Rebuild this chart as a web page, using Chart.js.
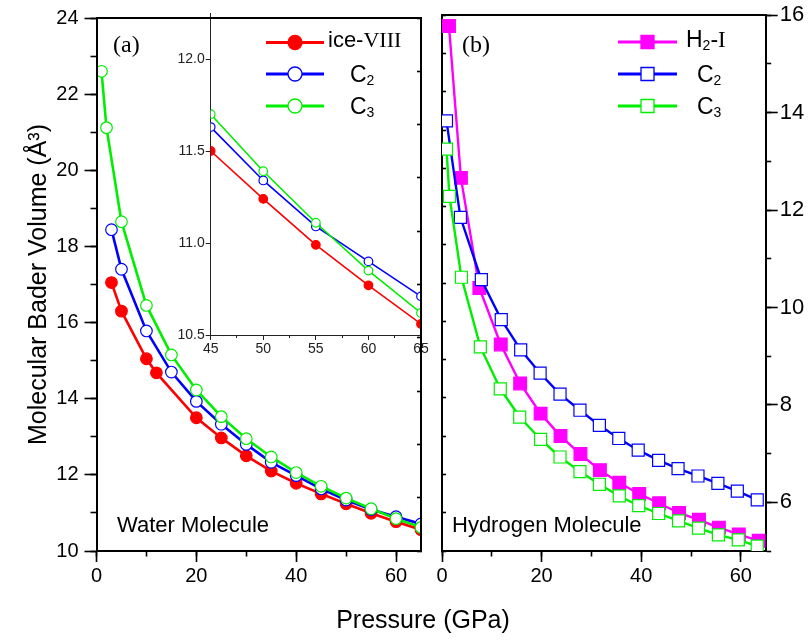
<!DOCTYPE html>
<html>
<head>
<meta charset="utf-8">
<script src="https://cdn.jsdelivr.net/npm/chart.js@4.4.1/dist/chart.umd.min.js"></script>
<style>
  html, body { margin: 0; padding: 0; background: #fff; }
  #wrap { position: relative; width: 811px; height: 640px; }
  #wrap canvas { position: absolute; left: 0; top: 0; }
</style>
</head>
<body>
<div id="wrap">
  <canvas id="waterData" width="811" height="640"></canvas>
  <canvas id="inset" width="811" height="640"></canvas>
  <canvas id="waterFrame" width="811" height="640"></canvas>
  <canvas id="hydrogen" width="811" height="640"></canvas>
</div>
<script>
// panel (a) water molecule, volume in A^3 vs pressure in GPa
const iceP = [3, 5, 10, 12, 20, 25, 30, 35, 40, 45, 50, 55, 60, 65];
const iceV = [17.05, 16.3, 15.05, 14.68, 13.5, 12.97, 12.5, 12.1, 11.78, 11.5, 11.24, 10.99, 10.77, 10.56];
const c2wP = [3, 5, 10, 15, 20, 25, 30, 35, 40, 45, 50, 55, 60, 65];
const c2wV = [18.44, 17.4, 15.78, 14.7, 13.93, 13.33, 12.8, 12.33, 11.98, 11.63, 11.34, 11.09, 10.9, 10.71];
const c3wP = [1, 2, 5, 10, 15, 20, 25, 30, 35, 40, 45, 50, 55, 60, 65];
const c3wV = [22.6, 21.12, 18.65, 16.45, 15.15, 14.23, 13.53, 12.95, 12.47, 12.06, 11.7, 11.39, 11.11, 10.85, 10.62];

// panel (b) hydrogen molecule
const h2P = [1.4, 3.8, 7.5, 11.8, 15.7, 19.8, 23.8, 27.8, 31.7, 35.6, 39.6, 43.6, 47.6, 51.6, 55.6, 59.6, 63.6];
const h2V = [15.78, 12.66, 10.4, 9.24, 8.44, 7.82, 7.36, 6.99, 6.66, 6.4, 6.17, 5.98, 5.78, 5.64, 5.48, 5.34, 5.21];
const c2hP = [0.9, 3.7, 7.9, 11.9, 15.8, 19.7, 23.7, 27.7, 31.6, 35.5, 39.4, 43.5, 47.4, 51.4, 55.4, 59.3, 63.3];
const c2hV = [13.83, 11.85, 10.57, 9.75, 9.13, 8.65, 8.22, 7.89, 7.58, 7.31, 7.07, 6.86, 6.69, 6.54, 6.39, 6.23, 6.05];
const c3hP = [0.9, 1.5, 3.9, 7.7, 11.7, 15.6, 19.8, 23.7, 27.7, 31.6, 35.6, 39.5, 43.5, 47.5, 51.5, 55.5, 59.5, 63.3];
const c3hV = [13.25, 12.28, 10.62, 9.19, 8.33, 7.75, 7.29, 6.93, 6.63, 6.37, 6.13, 5.93, 5.77, 5.62, 5.47, 5.33, 5.23, 5.1];

// tick values
const pressureTicks = [0, 20, 40, 60];
const pressureMinor = [0, 10, 20, 30, 40, 50, 60];
const waterTicks = [10, 12, 14, 16, 18, 20, 22, 24];
const waterMinor = [10, 11, 12, 13, 14, 15, 16, 17, 18, 19, 20, 21, 22, 23, 24];
const hydroTicks = [6, 8, 10, 12, 14, 16];
const hydroMinor = [5, 6, 7, 8, 9, 10, 11, 12, 13, 14, 15, 16];
const frameTicks = [0, 1, 2, 3, 4, 5, 6, 7, 8, 9, 10];
const insetPTicks = [45, 50, 55, 60, 65];
const insetPMinor = [45, 47.5, 50, 52.5, 55, 57.5, 60, 62.5, 65];
const insetVTicks = [10.5, 11.0, 11.5, 12.0];

const SANS = '"Liberation Sans", Arial, Helvetica, sans-serif';
const SERIF = '"Liberation Serif", "Times New Roman", serif';
const sans = s => s + 'px ' + SANS;
const serif = s => s + 'px ' + SERIF;

const RED = '#ff0000', BLUE = '#0000ff', GREEN = '#00ee00', MAGENTA = '#ff00ff';

function scale(o) {
  const ink = o.ghost ? 'rgba(0,0,0,0)' : (o.ink || '#000');
  return {
    type: 'linear', position: o.pos, min: o.range[0], max: o.range[1], weight: o.weight || 0,
    afterBuildTicks: s => { s.ticks = o.ticks.map(v => ({ value: v })); },
    afterFit: s => { if (s.isHorizontal()) s.height = o.size || 0; else s.width = o.size || 0; },
    border: { display: true, color: ink, width: o.line || 2 },
    grid: { drawOnChartArea: false, drawTicks: o.tick !== 0, tickLength: o.tick, tickWidth: o.tickWidth || 1.6, tickColor: ink, color: ink },
    ticks: {
      display: !!o.font, autoSkip: false, maxRotation: 0, padding: o.pad || 0, color: ink,
      font: { family: SANS, size: o.font || 12 }, callback: o.fmt || (v => String(v))
    },
    title: o.title ? { display: true, text: o.title, color: ink, font: { family: SANS, size: 25 }, padding: 0 } : { display: false }
  };
}

function waterScales(ghost) {
  return {
    x: scale({ ghost, pos: 'bottom', range: [0, 65], ticks: pressureTicks, tick: 11, font: 20, pad: 2, size: 40, weight: 1 }),
    xm: scale({ ghost, pos: 'bottom', range: [0, 65], ticks: pressureMinor, tick: 5.5 }),
    xt: scale({ ghost, pos: 'top', range: [0, 65], ticks: [0], tick: 0 }),
    y: scale({ ghost, pos: 'left', range: [10, 24], ticks: waterTicks, tick: 12, font: 20, pad: 6, size: 72, weight: 1,
      title: 'Molecular Bader Volume (Å³)' }),
    ym: scale({ ghost, pos: 'left', range: [10, 24], ticks: waterMinor, tick: 6 }),
    yr: scale({ ghost, pos: 'right', range: [0, 10], ticks: frameTicks, tick: -4 })
  };
}

function series(xs, ys, s, big) {
  return {
    data: xs.map((x, i) => ({ x, y: ys[i] })),
    xAxisID: 'x', yAxisID: 'y', showLine: true, tension: 0,
    borderColor: s.color, borderWidth: big ? s.lw : s.lwSmall,
    pointStyle: s.shape, pointRadius: big ? s.r : s.rSmall,
    pointBackgroundColor: s.fill, pointBorderColor: s.color, pointBorderWidth: s.bw,
    order: s.order
  };
}

const iceStyle = { color: RED, fill: RED, shape: 'circle', r: 5.8, rSmall: 4.3, lw: 2.6, lwSmall: 1.6, bw: 1.2, order: 3 };
const c2wStyle = { color: BLUE, fill: '#fff', shape: 'circle', r: 5.8, rSmall: 4.3, lw: 2.6, lwSmall: 1.6, bw: 1.2, order: 2 };
const c3wStyle = { color: GREEN, fill: '#fff', shape: 'circle', r: 5.8, rSmall: 4.3, lw: 2.6, lwSmall: 1.6, bw: 1.2, order: 1 };
const h2Style = { color: MAGENTA, fill: MAGENTA, shape: 'rect', r: 9, lw: 2.4, bw: 1.2, order: 3 };
const c2hStyle = { color: BLUE, fill: '#fff', shape: 'rect', r: 8.5, lw: 2.4, bw: 1.2, order: 2 };
const c3hStyle = { color: GREEN, fill: '#fff', shape: 'rect', r: 8.5, lw: 2.4, bw: 1.2, order: 1 };

function put(ctx, parts, x, y) {
  for (const [t, f, dy] of parts) {
    ctx.font = f;
    ctx.fillText(t, x, y + (dy || 0));
    x += ctx.measureText(t).width;
  }
}

function legend(ctx, rows, x0, x1, ys) {
  rows.forEach((row, i) => {
    const y = ys[i], s = row.style, mx = (x0 + x1) / 2;
    ctx.strokeStyle = s.color; ctx.lineWidth = 3;
    ctx.beginPath(); ctx.moveTo(x0, y); ctx.lineTo(x1, y); ctx.stroke();
    ctx.fillStyle = s.fill; ctx.lineWidth = 1.3;
    ctx.beginPath();
    if (s.shape === 'circle') ctx.arc(mx, y, 7, 0, Math.PI * 2);
    else ctx.rect(mx - 6.5, y - 6.5, 13, 13);
    ctx.fill(); ctx.stroke();
    ctx.fillStyle = '#000';
    put(ctx, row.label, row.tx, y + (i === 0 ? 4.5 : 7.5));
  });
}

function make(id, pad, scales, datasets, plugins) {
  return new Chart(document.getElementById(id), {
    type: 'scatter',
    data: { datasets },
    options: {
      responsive: false, animation: false, devicePixelRatio: 1, events: [],
      layout: { padding: pad },
      plugins: { legend: { display: false }, tooltip: { enabled: false } },
      scales
    },
    plugins: plugins || []
  });
}

const waterPad = { left: 24.5, top: 13, right: 390, bottom: 49 };

// main water curves (axes drawn invisibly; the frame chart on top draws them)
make('waterData', waterPad, waterScales(true), [
  series(iceP, iceV, iceStyle, true),
  series(c2wP, c2wV, c2wStyle, true),
  series(c3wP, c3wV, c3wStyle, true)
]);

// inset: zoom on 45-65 GPa
const whiteBox = {
  id: 'whiteBox',
  beforeDraw(chart) {
    const a = chart.chartArea, ctx = chart.ctx;
    ctx.save(); ctx.fillStyle = '#fff';
    ctx.fillRect(a.left, a.top, a.right - a.left, a.bottom - a.top);
    ctx.restore();
  }
};
make('inset', { left: 170.7, top: 13, right: 390, bottom: 280 }, {
  x: scale({ pos: 'bottom', range: [45, 65], ticks: insetPTicks, tick: 5, font: 14, pad: 1, size: 25, weight: 1, line: 1, tickWidth: 1, ink: '#222' }),
  xm: scale({ pos: 'bottom', range: [45, 65], ticks: insetPMinor, tick: 3, line: 1, tickWidth: 1, ink: '#222' }),
  y: scale({ pos: 'left', range: [10.5, 12.25], ticks: insetVTicks, tick: 5, font: 14, pad: 1, size: 40, weight: 1, line: 1, tickWidth: 1, ink: '#222',
    fmt: v => v.toFixed(1) })
}, [
  series(iceP.slice(9), iceV.slice(9), iceStyle, false),
  series(c2wP.slice(9), c2wV.slice(9), c2wStyle, false),
  series(c3wP.slice(9), c3wV.slice(9), c3wStyle, false)
], [whiteBox]);

// frame of panel (a) with legend and labels
const waterNotes = {
  id: 'waterNotes',
  afterDraw(chart) {
    const ctx = chart.ctx;
    ctx.save();
    ctx.textAlign = 'left'; ctx.textBaseline = 'alphabetic'; ctx.fillStyle = '#000';
    put(ctx, [['(a)', serif(24)]], 113, 52);
    put(ctx, [['Water Molecule', sans(22)]], 117, 532);
    ctx.textAlign = 'center';
    put(ctx, [['Pressure (GPa)', sans(25)]], 423, 628);
    ctx.textAlign = 'left';
    legend(ctx, [
      { style: iceStyle, tx: 328, label: [['ice-', sans(22)], ['VIII', serif(22)]] },
      { style: c2wStyle, tx: 350, label: [['C', sans(23)], ['2', sans(14), 3]] },
      { style: c3wStyle, tx: 350, label: [['C', sans(23)], ['3', sans(14), 3]] }
    ], 266, 324, [42.5, 74, 106]);
    ctx.restore();
  }
};
make('waterFrame', waterPad, waterScales(false), [], [waterNotes]);

// panel (b)
const hydroNotes = {
  id: 'hydroNotes',
  afterDraw(chart) {
    const ctx = chart.ctx;
    ctx.save();
    ctx.textAlign = 'left'; ctx.textBaseline = 'alphabetic'; ctx.fillStyle = '#000';
    put(ctx, [['(b)', serif(24)]], 462, 52);
    put(ctx, [['Hydrogen Molecule', sans(22)]], 452, 532);
    legend(ctx, [
      { style: h2Style, tx: 686, label: [['H', sans(23)], ['2', sans(14), 3], ['-', sans(23)], ['I', serif(23)]] },
      { style: c2hStyle, tx: 697, label: [['C', sans(23)], ['2', sans(14), 3]] },
      { style: c3hStyle, tx: 697, label: [['C', sans(23)], ['3', sans(14), 3]] }
    ], 618, 677, [42, 74, 106]);
    ctx.restore();
  }
};
make('hydrogen', { left: 442, top: 13, right: 0.3, bottom: 49 }, {
  x: scale({ pos: 'bottom', range: [0, 65], ticks: pressureTicks, tick: 11, font: 20, pad: 2, size: 40, weight: 1 }),
  xm: scale({ pos: 'bottom', range: [0, 65], ticks: pressureMinor, tick: 5.5 }),
  xt: scale({ pos: 'top', range: [0, 65], ticks: [0], tick: 0 }),
  y: scale({ pos: 'right', range: [5, 16], ticks: hydroTicks, tick: 12, font: 22, pad: 2, size: 45, weight: 1 }),
  ym: scale({ pos: 'right', range: [5, 16], ticks: hydroMinor, tick: 5.5 }),
  yl: scale({ pos: 'left', range: [10, 24], ticks: waterMinor, tick: -4 })
}, [
  series(h2P, h2V, h2Style, true),
  series(c2hP, c2hV, c2hStyle, true),
  series(c3hP, c3hV, c3hStyle, true)
], [hydroNotes]);
</script>
</body>
</html>
